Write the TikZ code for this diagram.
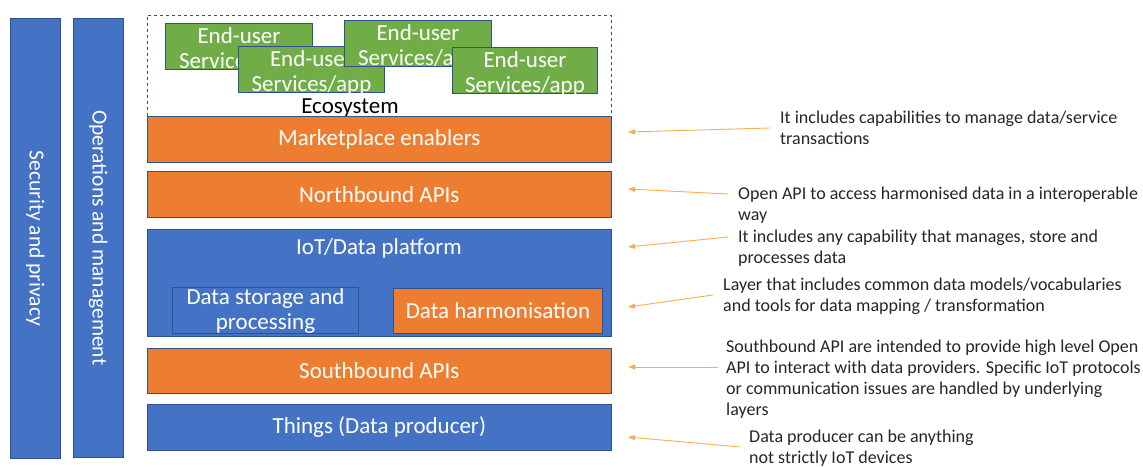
\documentclass[tikz,border=0pt]{standalone}
\usepackage{fontspec}
\setmainfont{Carlito}
\usetikzlibrary{arrows.meta}
\definecolor{oblue}{HTML}{4472C4}
\definecolor{oorange}{HTML}{ED7D31}
\definecolor{ogreen}{HTML}{70AD47}
\definecolor{oedge}{HTML}{2F528F}
\definecolor{arrowc}{HTML}{F8AE4E}
\tikzset{
  bigfont/.style={font=\fontsize{23}{25}\selectfont},
  layer/.style={draw=oedge, line width=0.6pt, text=white, bigfont, inner sep=0pt, anchor=north west},
  bluebox/.style={layer, fill=oblue},
  orangebox/.style={layer, fill=oorange},
  greenbox/.style={layer, fill=ogreen, line width=1pt},
  greentext/.style={text=white, align=center, bigfont, inner sep=0pt},
  sidetext/.style={rotate=-90, text=white, font=\fontsize{21.5}{24}\selectfont},
  note/.style={font=\fontsize{18}{21}\selectfont, align=left, anchor=north west, inner sep=0pt, text=black!85},
  noteArrow/.style={draw=arrowc, line width=0.9pt, -{Triangle[length=7pt,width=5pt]}},
}
\begin{document}
\begin{tikzpicture}[x=1pt,y=-1pt]
\useasboundingbox (0,0) rectangle (1143,466);
\fill[white] (0,0) rectangle (1143,466);

% vertical bars
\node[bluebox, minimum width=50pt, minimum height=440pt] (sec) at (10,18) {};
\node[sidetext] (secT) at (sec.center) {Security and privacy};
\node[bluebox, minimum width=50pt, minimum height=439pt] (ops) at (73,18) {};
\node[sidetext] (opsT) at (ops.center) {Operations and management};

% ecosystem
\node[draw=oedge, dashed, line width=0.8pt, minimum width=464pt, minimum height=102pt, anchor=north west, inner sep=0pt] (eco) at (147,15) {};
\node[bigfont, anchor=base] (ecoT) at (350,113) {Ecosystem};

\node[greenbox, minimum width=147pt, minimum height=46pt] (g1) at (165,23) {};
\node[greentext] (g1t) at ([yshift=-3.5pt]g1.center) {End-user\\Services/app};
\node[greenbox, minimum width=146pt, minimum height=46pt] (g2) at (238,46) {};
\node[greentext] (g2t) at ([yshift=-3.5pt]g2.center) {End-user\\Services/app};
\node[greenbox, minimum width=147pt, minimum height=46pt] (g3) at (344,20) {};
\node[greentext] (g3t) at ([yshift=-3.5pt]g3.center) {End-user\\Services/app};
\node[greenbox, minimum width=145pt, minimum height=46pt] (g4) at (452,47) {};
\node[greentext] (g4t) at ([yshift=-3.5pt]g4.center) {End-user\\Services/app};

% layers
\node[orangebox, minimum width=464pt, minimum height=46pt] (mkt) at (147,116) {Marketplace enablers};
\node[orangebox, minimum width=464pt, minimum height=46pt] (nb) at (147,171) {Northbound APIs};
\node[bluebox, minimum width=464pt, minimum height=107pt] (iot) at (147,229) {};
\node[text=white, bigfont] (iotT) at (379,248) {IoT/Data platform};
\node[bluebox, line width=1pt, minimum width=186pt, minimum height=46pt, align=center] (dsp) at (172,287) {Data storage and\\processing};
\node[orangebox, line width=1pt, minimum width=209pt, minimum height=45pt] (dh) at (393,288) {Data harmonisation};
\node[orangebox, minimum width=464pt, minimum height=45pt] (sb) at (147,348) {Southbound APIs};
\node[bluebox, minimum width=464pt, minimum height=46pt] (th) at (147,404) {Things (Data producer)};

% notes
\node[note] (n1) at (780,111) {It includes capabilities to manage data/service\\transactions};
\node[note] (n2) at (738,187) {Open API to access harmonised data in a interoperable\\way};
\node[note] (n3) at (738,230) {It includes any capability that manages, store and\\processes data};
\node[note] (n4) at (723,278) {Layer that includes common data models/vocabularies\\and tools for data mapping / transformation};
\node[note] (n5) at (726,340) {Southbound API are intended to provide high level Open\\API to interact with data providers. Specific IoT protocols\\or communication issues are handled by underlying\\layers};
\node[note] (n6) at (749,430) {Data producer can be anything\\not strictly IoT devices};

% arrows
\coordinate (a1s) at (770,128); \coordinate (a1e) at (628,132);
\coordinate (a2s) at (728,194); \coordinate (a2e) at (628,189);
\coordinate (a3s) at (728,237); \coordinate (a3e) at (628,247);
\coordinate (a4s) at (713,295); \coordinate (a4e) at (628,307);
\coordinate (a5s) at (718,367); \coordinate (a5e) at (628,367);
\coordinate (a6s) at (740,447); \coordinate (a6e) at (628,437);
\draw[noteArrow] (a1s) -- (a1e);
\draw[noteArrow] (a2s) -- (a2e);
\draw[noteArrow] (a3s) -- (a3e);
\draw[noteArrow] (a4s) -- (a4e);
\draw[noteArrow] (a5s) -- (a5e);
\draw[noteArrow] (a6s) -- (a6e);
\end{tikzpicture}
\end{document}
